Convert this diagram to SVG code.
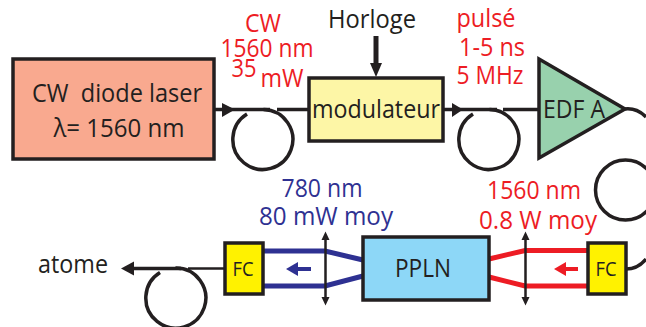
<svg xmlns="http://www.w3.org/2000/svg" width="646" height="327" viewBox="0 0 646 327">
<style>
text{font-family:"Open Sans","Noto Sans","Liberation Sans",sans-serif;font-size:25px;fill:#231f20;text-anchor:middle;white-space:pre}
.r{fill:#ed1c24}.b{fill:#2e3192}
.box{stroke:#231f20;stroke-width:3.5}
.f{fill:none;stroke:#231f20;stroke-width:3.5}
.h{fill:#231f20;stroke:none}
.bl{fill:none;stroke:#2e3192;stroke-width:5}
.rd{fill:none;stroke:#ed1c24;stroke-width:5}
</style>
<g id="connectors">
<path class="f" d="M214 109.500H270M277 109.500H309"/>
<path class="h" d="M222 103L235 109.500L222 117Z"/>
<path class="f" d="M263.500 109.500A30 30 0 1 1 247 114"/>
<path class="f" d="M443 109.500H497M503 109.500H539"/>
<path class="h" d="M452 103L463 109.500L452 117Z"/>
<path class="f" d="M489.500 109.500A30 30 0 1 1 473 114"/>
<path class="f" style="stroke-width:5" d="M376 36V66"/>
<path class="h" d="M370 63H382L376 77Z"/>
<path class="f" d="M625 109C634 108 641 112 646 117"/>
<circle class="f" cx="625.500" cy="190" r="30"/>
<path class="f" d="M626 269C634 269 641 265 646 259"/>
<path class="f" d="M133 268.500H181"/>
<path class="f" style="stroke-width:2.500" d="M188 268.500H225"/>
<path class="h" d="M121 268.500L134 261.500V275.500Z"/>
<path class="f" d="M175.500 268A30 30 0 1 1 160 272.500"/>
<path class="bl" d="M263 251H325L363 260M263 286H325L363 276"/>
<path class="rd" d="M489 259L525 250.500H588M489 277L525 286H588"/>
<path d="M325.500 236V301M525.500 236V301" stroke="#231f20" stroke-width="2.500" fill="none"/>
<path class="h" d="M325.500 231.500L329.500 240H321.500ZM325.500 305.500L329.500 297H321.500ZM525.500 231.500L529.500 240H521.500ZM525.500 305.500L529.500 297H521.500Z"/>
<path d="M297 269H311" stroke="#2e3192" stroke-width="4"/>
<path d="M286 269L298 262V276Z" fill="#2e3192"/>
<path d="M565 269H578" stroke="#ed1c24" stroke-width="4"/>
<path d="M554 269L566 262V276Z" fill="#ed1c24"/>
</g>
<g id="laser"><rect class="box" x="13" y="59" width="201" height="100" fill="#f9a98f"/>
<text x="117" y="102" textLength="170" lengthAdjust="spacingAndGlyphs">CW  diode laser</text>
<text x="119" y="137" textLength="131" lengthAdjust="spacingAndGlyphs">λ= 1560 nm</text></g>
<g id="modulateur"><rect class="box" x="309" y="78" width="134" height="63" fill="#fdf6a6"/>
<text x="376" y="118" textLength="128" lengthAdjust="spacingAndGlyphs">modulateur</text></g>
<g id="edfa"><path class="box" d="M539 59V158L625 109Z" fill="#98d1ad"/>
<text x="574" y="118" textLength="62" lengthAdjust="spacingAndGlyphs">EDF A</text></g>
<g id="fc1"><rect class="box" x="225" y="243" width="38" height="51" fill="#fff200"/>
<text x="243" y="276" style="font-size:20px" textLength="21" lengthAdjust="spacingAndGlyphs">FC</text></g>
<g id="fc2"><rect class="box" x="588" y="243" width="38" height="51" fill="#fff200"/>
<text x="606" y="276" style="font-size:20px" textLength="21" lengthAdjust="spacingAndGlyphs">FC</text></g>
<g id="ppln"><rect class="box" x="363" y="237" width="126" height="63" fill="#8dd7f7"/>
<text x="423" y="277" textLength="56" lengthAdjust="spacingAndGlyphs">PPLN</text></g>
<g id="labels">
<text class="r" x="263" y="32" textLength="36" lengthAdjust="spacingAndGlyphs">CW</text>
<text class="r" x="267" y="57" textLength="93" lengthAdjust="spacingAndGlyphs">1560 nm</text>
<text class="r" x="244" y="77" textLength="25" lengthAdjust="spacingAndGlyphs">35</text>
<text class="r" x="282" y="87" textLength="43" lengthAdjust="spacingAndGlyphs">mW</text>
<text x="372" y="28" textLength="88" lengthAdjust="spacingAndGlyphs">Horloge</text>
<text class="r" x="486" y="27" textLength="59" lengthAdjust="spacingAndGlyphs">pulsé</text>
<text class="r" x="492" y="56" textLength="66" lengthAdjust="spacingAndGlyphs">1-5 ns</text>
<text class="r" x="490" y="84" textLength="67" lengthAdjust="spacingAndGlyphs">5 MHz</text>
<text class="b" x="322" y="197" textLength="81" lengthAdjust="spacingAndGlyphs">780 nm</text>
<text class="b" x="326" y="225" textLength="134" lengthAdjust="spacingAndGlyphs">80 mW moy</text>
<text class="r" x="534" y="199" textLength="94" lengthAdjust="spacingAndGlyphs">1560 nm</text>
<text class="r" x="538" y="229" textLength="118" lengthAdjust="spacingAndGlyphs">0.8 W moy</text>
<text x="73" y="273" textLength="70" lengthAdjust="spacingAndGlyphs">atome</text>
</g>
</svg>
